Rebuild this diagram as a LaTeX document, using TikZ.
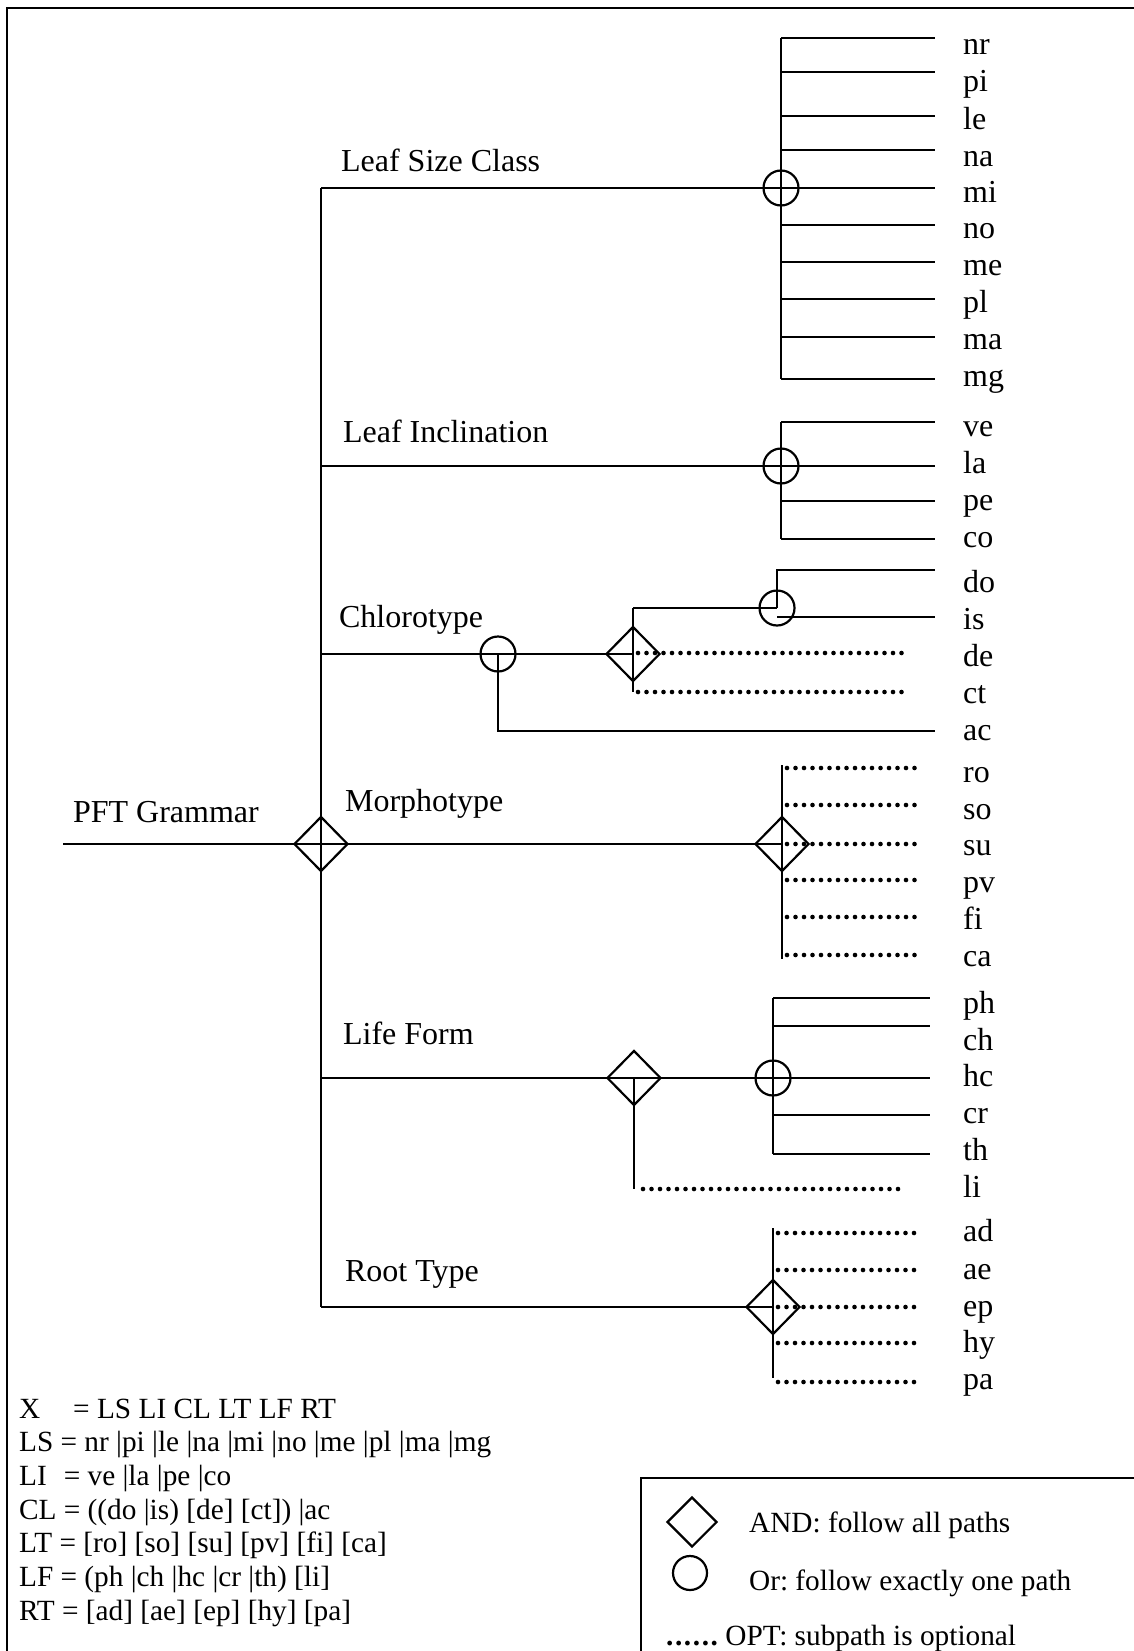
\documentclass[tikz,border=0pt]{standalone}
\usepackage{fontspec}
\setmainfont{Liberation Serif}
\usetikzlibrary{shapes.geometric}
\frenchspacing

\begin{document}
\begin{tikzpicture}[
  x=1pt, y=-1pt, line width=2.2pt,
  font=\fontsize{32}{38}\selectfont,
  andnode/.style={draw, diamond, inner sep=0pt, minimum width=54pt, minimum height=55pt},
  ornode/.style={draw, circle, inner sep=0pt, minimum size=35pt},
  opt/.style={line width=4.6pt, line cap=round, dash pattern=on 0pt off 8.5pt},
  leaf/.style={anchor=west, inner sep=0pt, text height=22pt, text depth=0pt},
  lbl/.style={anchor=base west, inner sep=0pt},
  rule/.style={lbl, font=\fontsize{29.3}{34}\selectfont},
]
\useasboundingbox (0,0) rectangle (1134,1651);
% frames
\draw (7,1651) |- (1134,8);
\draw (641,1651) |- (1134,1478);

% root and trunk
\node[lbl] (pftlbl) at (72,822) {PFT Grammar};
\coordinate (start) at (63,844);
\node[andnode] (pft) at (321,844) {};
\coordinate (jls) at (321,188);
\coordinate (jli) at (321,466);
\coordinate (jcl) at (321,654);
\coordinate (jlf) at (321,1078);
\coordinate (jrt) at (321,1307);
\draw (jls) -- (jrt);

% leaf size class
\node[lbl] (lsc) at (340,171) {Leaf Size Class};
\node[ornode] (lsor) at (781,188) {};
\draw (jls) -- (lsor.center);
\foreach \n/\y/\l in {nr/38/44,pi/72/81,le/116/118,na/150/155,mi/188/191,
                      no/225/227,me/262/264,pl/299/301,ma/337/338,mg/379/375}{
  \node[leaf] (\n) at (962,\l) {\n};
  \draw[shorten >=27pt] (lsor |- 0,\y) -- (\n.west |- 0,\y);
}
\draw (lsor |- 0,38) -- (lsor |- 0,379);

% leaf inclination
\node[lbl] (lin) at (342,442) {Leaf Inclination};
\node[ornode] (lior) at (781,466) {};
\draw (jli) -- (lior.center);
\foreach \n/\y/\l in {ve/422/425,la/466/462,pe/501/499,co/539/536}{
  \node[leaf] (\n) at (962,\l) {\n};
  \draw[shorten >=27pt] (lior |- 0,\y) -- (\n.west |- 0,\y);
}
\draw (lior |- 0,422) -- (lior |- 0,539);

% chlorotype
\node[lbl] (chl) at (338,627) {Chlorotype};
\node[ornode] (clor) at (498,654) {};
\node[andnode] (cland) at (633,654) {};
\node[ornode] (dior) at (777,608) {};
\foreach \n/\l in {do/581,is/618,de/655,ct/692,ac/729}{
  \node[leaf] (\n) at (962,\l) {\n};
}
\draw (jcl) -- (clor.center) -- (cland.center);
\draw (cland |- dior) -- (cland |- 0,692);
\draw (cland |- dior) -- (dior.center);
\draw[shorten >=27pt] (dior.center) |- (do.west |- 0,570);
\draw[shorten >=27pt] (dior |- 0,617) -- (is.west |- 0,617);
\draw[opt, shorten >=57pt] ([xshift=5pt]cland |- 0,653) -- (de.west |- 0,653);
\draw[opt, shorten >=57pt] ([xshift=5pt]cland |- 0,692) -- (ct.west |- 0,692);
\draw[shorten >=27pt] (clor.center) |- (ac.west |- 0,731);

% morphotype
\node[lbl] (mor) at (344,811) {Morphotype};
\node[andnode] (mtand) at (782,844) {};
\draw (start) -- (mtand.center);
\foreach \n/\y/\l in {ro/768/771,so/805/808,su/844/844,pv/880/881,fi/917/918,ca/955/955}{
  \node[leaf] (\n) at (962,\l) {\n};
  \draw[opt, shorten >=42pt] ([xshift=5pt]mtand |- 0,\y) -- (\n.west |- 0,\y);
}
\draw (mtand |- 0,765) -- (mtand |- 0,959);

% life form
\node[lbl] (lfo) at (342,1044) {Life Form};
\node[andnode] (lfand) at (634,1078) {};
\node[ornode] (lfor) at (773,1078) {};
\draw (jlf) -- (lfor.center);
\foreach \n/\y/\l in {ph/998/1002,ch/1026/1039,hc/1078/1075,cr/1115/1112,th/1154/1149}{
  \node[leaf] (\n) at (962,\l) {\n};
  \draw[shorten >=32pt] (lfor |- 0,\y) -- (\n.west |- 0,\y);
}
\draw (lfor |- 0,998) -- (lfor |- 0,1154);
\node[leaf] (li) at (962,1186) {li};
\draw (lfand.center) -- (lfand |- 0,1189);
\draw[opt, shorten >=59pt] ([xshift=9pt]lfand |- 0,1189) -- (li.west |- 0,1189);

% root type
\node[lbl] (rty) at (344,1281) {Root Type};
\node[andnode] (rtand) at (773,1307) {};
\draw (jrt) -- (rtand.center);
\foreach \n/\y/\l in {ad/1233/1230,ae/1270/1268,ep/1307/1305,hy/1343/1341,pa/1382/1378}{
  \node[leaf] (\n) at (962,\l) {\n};
  \draw[opt, shorten >=44pt] ([xshift=5pt]rtand |- 0,\y) -- (\n.west |- 0,\y);
}
\draw (rtand |- 0,1228) -- (rtand |- 0,1378);

% grammar rules
\foreach \t [count=\i] in {{X\hspace{33pt}= LS LI CL LT LF RT},
    {LS = nr |pi |le |na |mi |no |me |pl |ma |mg},
    {LI\hspace{17pt}= ve |la |pe |co},
    {CL = ((do |is) [de] [ct]) |ac},
    {LT = [ro] [so] [su] [pv] [fi] [ca]},
    {LF = (ph |ch |hc |cr |th) [li]},
    {RT = [ad] [ae] [ep] [hy] [pa]}}{
  \node[rule] (def\i) at (18,{1384.3+33.7*\i}) {\t};
}

% legend
\node[andnode, minimum width=50pt, minimum height=50pt] (keyand) at (692,1522) {};
\node[rule] (keyandlbl) at (748,1532) {AND: follow all paths};
\node[ornode, minimum size=34pt] (keyor) at (690,1573) {};
\node[rule] (keyorlbl) at (748,1590) {Or: follow exactly one path};
\node[rule] (keyopt) at (665,1645) {\textbf{.\kern1.6pt.\kern1.6pt.\kern1.6pt.\kern1.6pt.\kern1.6pt.}\ OPT: subpath is optional};
\end{tikzpicture}
\end{document}
